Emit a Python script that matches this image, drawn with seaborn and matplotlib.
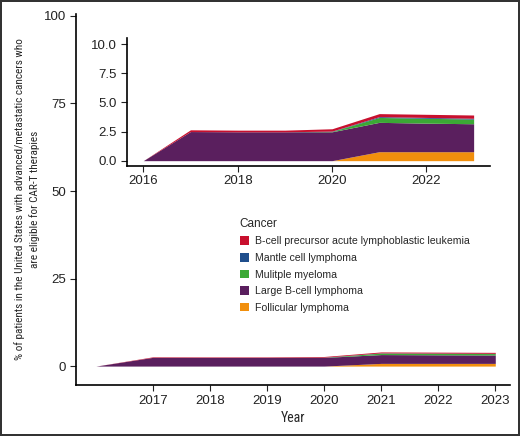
import matplotlib
matplotlib.use("Agg")
import matplotlib.pyplot as plt
import seaborn as sns
import numpy as np
from matplotlib.patches import Patch

years = [2016, 2017, 2018, 2019, 2020, 2021, 2022, 2023]
follicular = [0.0, 0.0, 0.0, 0.0, 0.0, 0.77, 0.77, 0.77]
large_bcell = [0.0, 2.50, 2.48, 2.48, 2.48, 2.52, 2.45, 2.40]
myeloma = [0.0, 0.0, 0.0, 0.0, 0.03, 0.42, 0.42, 0.40]
mantle = [0.0, 0.0, 0.0, 0.0, 0.03, 0.07, 0.07, 0.07]
ball = [0.0, 0.15, 0.14, 0.14, 0.20, 0.26, 0.27, 0.28]

labels = ["Follicular lymphoma", "Large B-cell lymphoma", "Mulitple myeloma",
          "Mantle cell lymphoma", "B-cell precursor acute lymphoblastic leukemia"]
colors = ["#F18F0D", "#5A1F5E", "#3BA935", "#1F4E8C", "#C8102E"]

main_xticks = [2017, 2018, 2019, 2020, 2021, 2022, 2023]
main_yticks = [0, 25, 50, 75, 100]
inset_xticks = [2016, 2018, 2020, 2022]
inset_yticks = [0.0, 2.5, 5.0, 7.5, 10.0]

sns.set_theme(style="ticks")
plt.rcParams['font.family'] = ['Liberation Sans', 'DejaVu Sans']

fig = plt.figure(figsize=(5.2, 4.36), dpi=100, linewidth=1.5, edgecolor="#333333")

series = [follicular, large_bcell, myeloma, mantle, ball]

ax = fig.add_axes([0.146, 0.117, 0.835, 0.852])
ax.stackplot(years, *series, colors=colors, linewidth=0)
ax.set_xlim(2015.65, 2023.26)
ax.set_ylim(-5.4, 100.7)
ax.set_xticks(main_xticks)
ax.set_yticks(main_yticks)
ax.tick_params(labelsize=9.5, length=4, width=0.8, colors="#222222", pad=3)
for s in ["left", "bottom"]:
    ax.spines[s].set_color("black")
    ax.spines[s].set_linewidth(1.2)
sns.despine(ax=ax)
cond = ['Liberation Sans Narrow', 'Roboto Condensed', 'DejaVu Sans']
ax.set_xlabel("Year", fontsize=10, family=cond, labelpad=3)
ax.set_ylabel("% of patients in the United States with advanced/metastatic cancers who\nare eligible for CAR-T therapies",
              fontsize=8.1, family=cond, linespacing=1.45)
ax.yaxis.set_label_coords(-0.083, 0.5)

ins = fig.add_axes([0.2437, 0.620, 0.698, 0.292])
ins.stackplot(years, *series, colors=colors, linewidth=0)
ins.set_xlim(2015.65, 2023.34)
ins.set_ylim(-0.43, 10.5)
ins.set_xticks(inset_xticks)
ins.set_yticks(inset_yticks)
ins.set_yticklabels([f"{v:.1f}" for v in inset_yticks])
ins.tick_params(labelsize=9.5, length=4, width=0.8, colors="#222222", pad=3)
for s in ["left", "bottom"]:
    ins.spines[s].set_color("black")
    ins.spines[s].set_linewidth(1.2)
sns.despine(ax=ins)
ins.patch.set_alpha(0)

order = [4, 3, 2, 1, 0]
handles = [Patch(facecolor=colors[i], edgecolor="none") for i in order]
leg = fig.legend(handles, [labels[i] for i in order], title="Cancer",
                 loc="upper left", bbox_to_anchor=(0.443, 0.522), frameon=False,
                 fontsize=7.6, title_fontsize=8.5, handlelength=0.9, handleheight=0.9,
                 handletextpad=0.55, labelspacing=0.62, alignment="left")

fig.savefig("out.png", dpi=100)
